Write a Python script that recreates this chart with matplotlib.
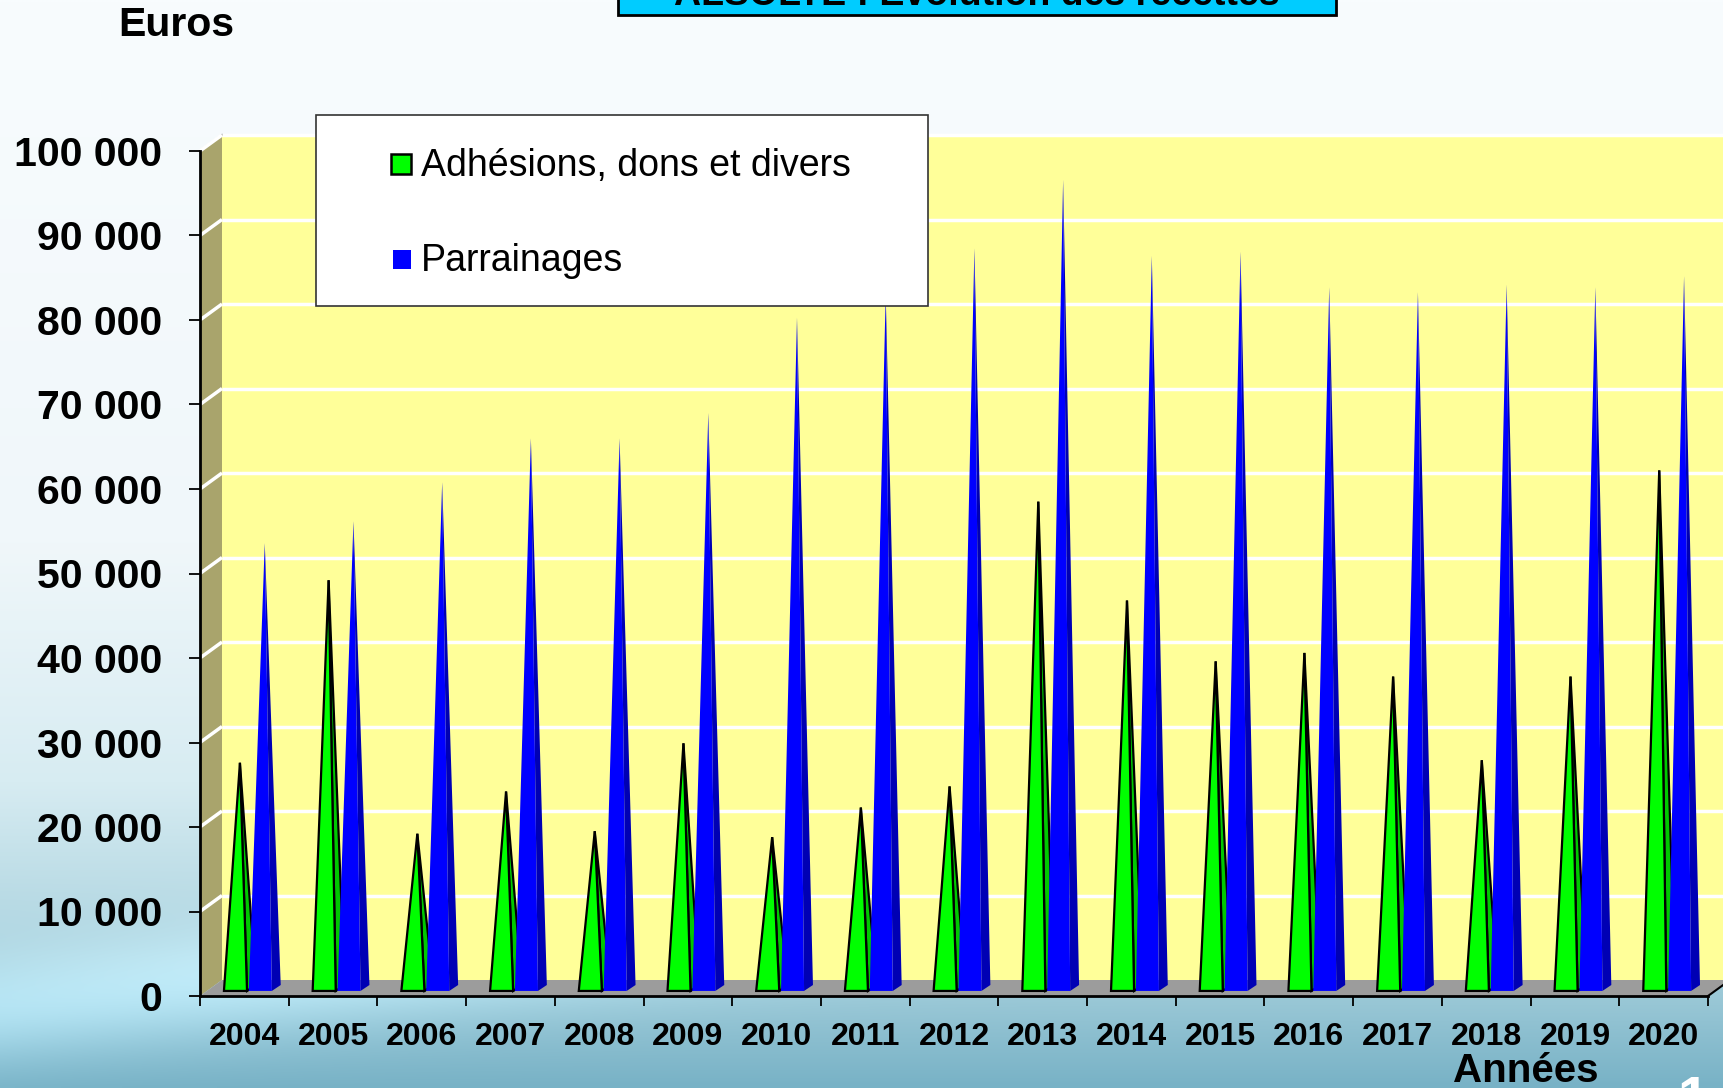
import numpy as np
import matplotlib
matplotlib.use("Agg")
import matplotlib.pyplot as plt
from matplotlib.patches import Polygon, Rectangle

plt.rcParams['font.family'] = ['Liberation Sans', 'DejaVu Sans']

# ---------------- data ----------------
years = ["2004", "2005", "2006", "2007", "2008", "2009", "2010", "2011", "2012",
         "2013", "2014", "2015", "2016", "2017", "2018", "2019", "2020"]
adhesions = [27000, 48600, 18600, 23600, 18900, 29300, 18200, 21700, 24200,
             57900, 46200, 39000, 40000, 37200, 27300, 37200, 61600]
parrainages = [53000, 55600, 60200, 65400, 65400, 68400, 79700, 82500, 87900,
               96000, 87000, 87500, 83300, 82700, 83600, 83300, 84600]
yticks = list(range(0, 100001, 10000))
series_names = ["Adhésions, dons et divers", "Parrainages"]
title = "ALSOLTE : Évolution des recettes"

W_PX, H_PX = 1724, 1088
fig = plt.figure(figsize=(W_PX / 100, H_PX / 100), dpi=100)

# ---------------- background gradient ----------------
h, w = 272, 431
yy, xx = np.mgrid[0:h, 0:w]
t = yy / (h - 1)
s = xx / (w - 1)
stops_t = [0.0, 0.5, 0.72, 0.88, 1.0]
stops_c = np.array([[248, 252, 254], [240, 247, 250], [215, 236, 242],
                    [170, 210, 222], [120, 178, 198]]) / 255.0
img = np.zeros((h, w, 3))
for k in range(3):
    img[..., k] = np.interp(t, stops_t, stops_c[:, k])
band = np.exp(-((t - (0.93 - 0.18 * s)) / 0.05) ** 2) * (t > 0.6)
img = img + band[..., None] * 0.12
img = np.clip(img, 0, 1)
bg = fig.add_axes([0, 0, 1, 1], zorder=-1)
bg.imshow(img, aspect='auto', extent=[0, 1, 0, 1], interpolation='bilinear')
bg.axis('off')

# ---------------- main axes (front plane) ----------------
left_px, right_px, bot_px, top_px = 200, 1708, 996, 151
ax = fig.add_axes([left_px / W_PX, (H_PX - bot_px) / H_PX,
                   (right_px - left_px) / W_PX, (bot_px - top_px) / H_PX])
n = len(years)
ax.set_xlim(0, n)
ax.set_ylim(0, 100000)
ax.patch.set_alpha(0)

DX, DY = 0.248, 1893          # depth offset of the back wall (data units)
XEND = n + 0.3

ax.add_patch(Polygon([(DX, DY), (XEND, DY), (XEND, 100000 + DY), (DX, 100000 + DY)],
                     closed=True, facecolor='#FFFF99', edgecolor='none',
                     zorder=0.5, clip_on=False))
ax.add_patch(Polygon([(0, 0), (DX, DY), (DX, 100000 + DY), (0, 100000)],
                     closed=True, facecolor='#A9A46C', edgecolor='none',
                     zorder=0.5, clip_on=False))
ax.plot([0, DX], [100000, 100000 + DY], color='#8f8f8f', lw=1.5, zorder=0.55,
        clip_on=False)
for v in yticks[1:]:
    ax.plot([DX, XEND], [v + DY, v + DY], color='white', lw=2.5, zorder=0.6,
            clip_on=False, solid_capstyle='butt')
    ax.plot([0, DX], [v, v + DY], color='white', lw=2.5, zorder=0.6,
            clip_on=False, solid_capstyle='butt')
ax.add_patch(Polygon([(0, 0), (n, 0), (n + DX, DY), (DX, DY)], closed=True,
                     facecolor='#9C9C9C', edgecolor='none', zorder=0.7,
                     clip_on=False))
ax.plot([n, n + DX], [0, DY], color='black', lw=1.5, zorder=0.75, clip_on=False)

# ---------------- pyramids ----------------
W = 0.26
DDX, DDY = 0.10, 700
YB = 600


def pyramid(x0, value, front, side, edge, lw):
    xl, xr = x0, x0 + W
    apex = ((xl + xr) / 2 + DDX / 2, YB + value)
    ax.add_patch(Polygon([(xr, YB), (xr + DDX, YB + DDY), apex], closed=True,
                         facecolor=side, edgecolor=edge, lw=lw, zorder=2,
                         clip_on=False, joinstyle='miter'))
    ax.add_patch(Polygon([(xl, YB), (xr, YB), apex], closed=True,
                         facecolor=front, edgecolor=edge, lw=lw, zorder=2.1,
                         clip_on=False, joinstyle='miter'))


for i in range(n):
    pyramid(i + 0.27, adhesions[i], '#00FF00', '#00C800', 'black', 1.6)
for i in range(n):
    pyramid(i + 0.55, parrainages[i], '#0000FF', '#0000B4', 'none', 0)

# ---------------- axes styling ----------------
for sp in ['top', 'right']:
    ax.spines[sp].set_visible(False)
ax.spines['left'].set_linewidth(2)
ax.spines['bottom'].set_linewidth(2)
ax.spines['left'].set_zorder(3)
ax.spines['bottom'].set_zorder(3)

ax.set_yticks(yticks)
ax.set_yticklabels([f"{v:,}".replace(",", " ") for v in yticks],
                   fontsize=29.5, fontweight='bold')
ax.tick_params(axis='y', length=8, width=1.3, pad=19, direction='out')

ax.set_xticks(range(n + 1))
ax.set_xticklabels([])
ax.tick_params(axis='x', which='major', length=7, width=1.3, direction='out')
ax.set_xticks([i + 0.5 for i in range(n)], minor=True)
ax.set_xticklabels(years, minor=True, fontsize=23, fontweight='bold')
ax.tick_params(axis='x', which='minor', length=0, pad=19)

# ---------------- texts ----------------
fig.text(176 / W_PX, 1 - 25 / H_PX, "Euros", ha='center', va='center',
         fontsize=29.5, fontweight='bold')
fig.text(1526 / W_PX, 1 - 1082 / H_PX, "Années", ha='center', va='baseline',
         fontsize=29, fontweight='bold')
fig.text(1678 / W_PX, 1 - 1075 / H_PX, "1", ha='left', va='top',
         fontsize=40, fontweight='bold', color='white')

# title box (cut off at top, as in the reference)
fig.patches.append(Rectangle((618 / W_PX, 1 - 15 / H_PX), (1336 - 618) / W_PX,
                             60 / H_PX, transform=fig.transFigure,
                             facecolor='#00CCFF', edgecolor='black', lw=2,
                             zorder=1))
fig.text(977 / W_PX, 1 - 5 / H_PX, title, ha='center', va='baseline',
         fontsize=27, fontweight='bold', zorder=3)

# legend (manual box)
fig.patches.append(Rectangle((316 / W_PX, 1 - 306 / H_PX), (928 - 316) / W_PX,
                             (306 - 115) / H_PX, transform=fig.transFigure,
                             facecolor='white', edgecolor='#333333', lw=1.2,
                             zorder=4))
fig.patches.append(Rectangle((391 / W_PX, 1 - 174 / H_PX), 20 / W_PX, 20 / H_PX,
                             transform=fig.transFigure, facecolor='#00FF00',
                             edgecolor='black', lw=1.8, zorder=5))
fig.patches.append(Rectangle((393 / W_PX, 1 - 269 / H_PX), 18 / W_PX, 19 / H_PX,
                             transform=fig.transFigure, facecolor='#0000FF',
                             edgecolor='none', zorder=5))
fig.text(421 / W_PX, 1 - 166 / H_PX, series_names[0], ha='left', va='center',
         fontsize=27, zorder=6)
fig.text(421 / W_PX, 1 - 261 / H_PX, series_names[1], ha='left', va='center',
         fontsize=27, zorder=6)

fig.savefig("out.png", dpi=100)
